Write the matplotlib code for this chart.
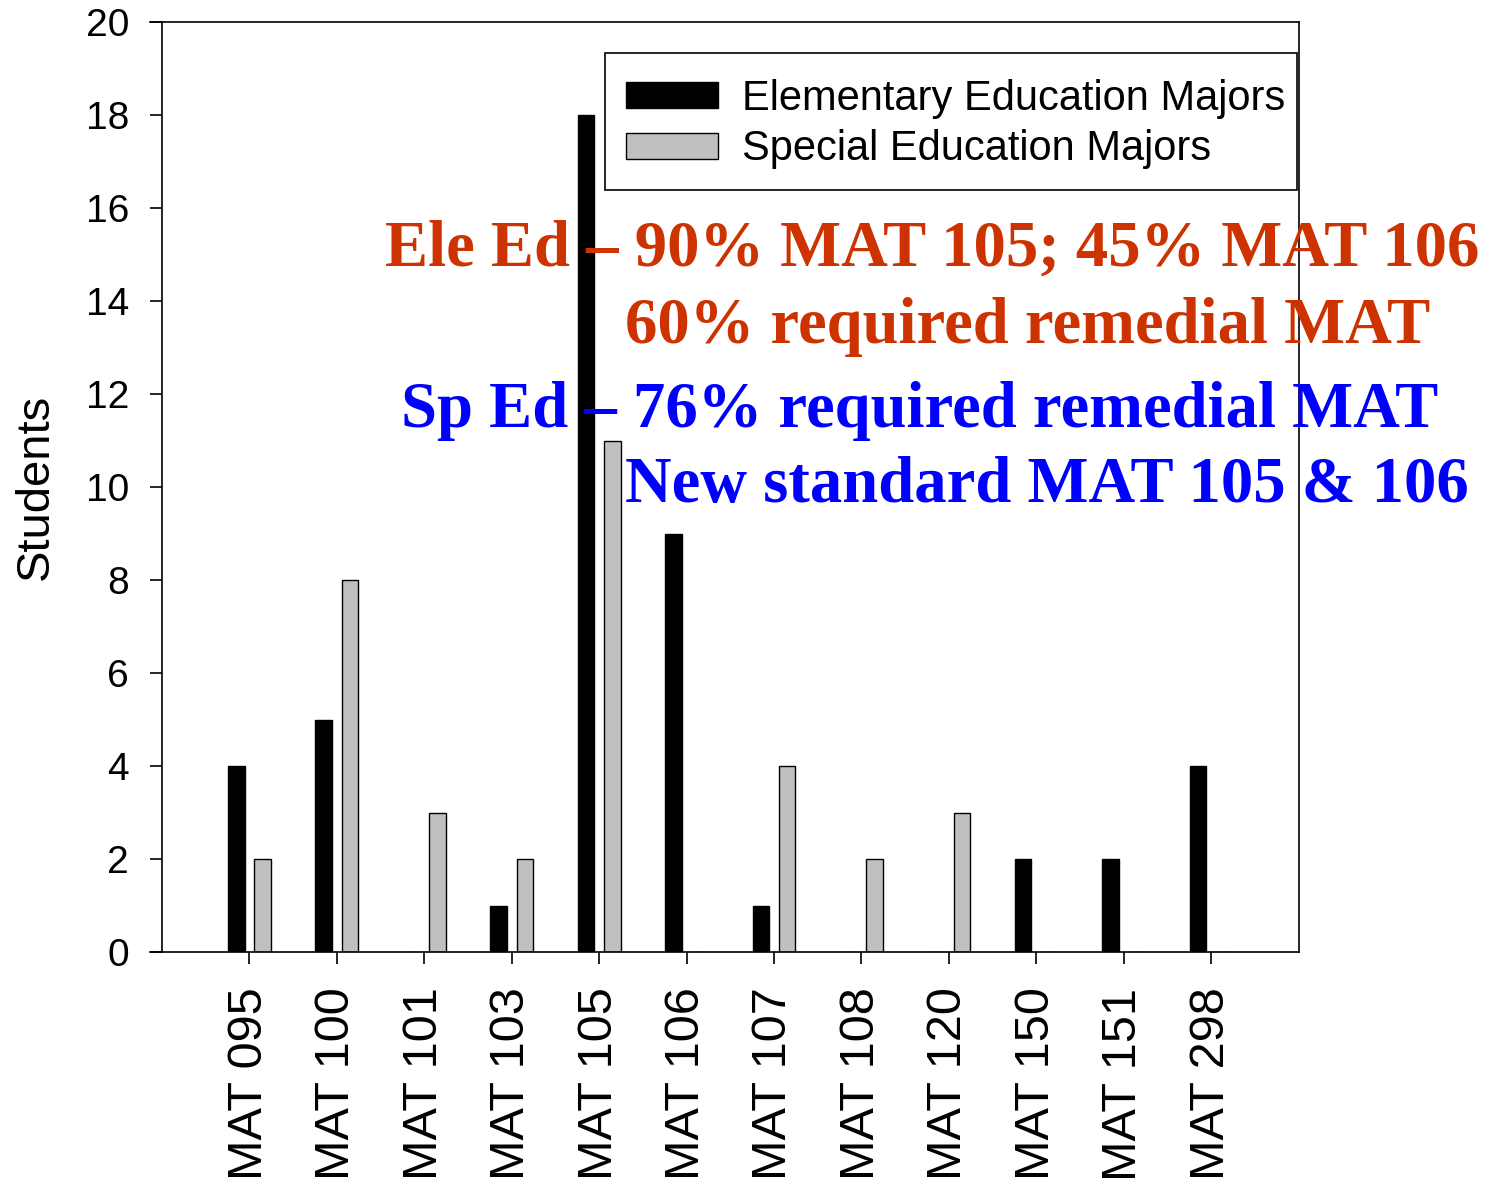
import numpy as np
import matplotlib
matplotlib.use('Agg')
import matplotlib.pyplot as plt
from matplotlib.patches import Rectangle

courses = ['MAT 095', 'MAT 100', 'MAT 101', 'MAT 103', 'MAT 105', 'MAT 106',
           'MAT 107', 'MAT 108', 'MAT 120', 'MAT 150', 'MAT 151', 'MAT 298']
elem_ed = [4, 5, 0, 1, 18, 9, 1, 0, 0, 2, 2, 4]
spec_ed = [2, 8, 3, 2, 11, 0, 4, 2, 3, 0, 0, 0]
series_names = ['Elementary Education Majors', 'Special Education Majors']

notes_ele = ['Ele Ed \u2013 90% MAT 105; 45% MAT 106', '60% required remedial MAT']
notes_sp = ['Sp Ed \u2013 76% required remedial MAT', 'New standard MAT 105 & 106']

W, H = 1490, 1181
plt.rcParams['font.family'] = ['Liberation Sans', 'DejaVu Sans']
fig = plt.figure(figsize=(W / 100, H / 100), dpi=100)
ax = fig.add_axes([162 / W, 1 - 952 / H, (1298.5 - 162) / W, (952 - 22) / H])

x = np.arange(len(courses))
bw = 0.19
ax.bar(x - 0.15, elem_ed, bw, color='black', edgecolor='black', linewidth=1, label=series_names[0])
ax.bar(x + 0.15, spec_ed, bw, color='#c0c0c0', edgecolor='black', linewidth=1, label=series_names[1])

ax.set_xlim(-1, 12)
ax.set_ylim(0, 20)
ax.set_yticks(np.arange(0, 21, 2))
ax.set_xticks(x)
ax.set_xticklabels(courses, rotation=90, fontsize=35)
ax.tick_params(axis='y', labelsize=28, pad=15)
ax.tick_params(axis='x', pad=17)
ax.tick_params(direction='out', length=8.6, width=1.2)
for s in ax.spines.values():
    s.set_linewidth(1.2)
# frame lines at top and bottom run past the y axis like in the original
ext = -1 - 12 / 87.4
ax.spines['bottom'].set_bounds(ext, 12)
ax.spines['top'].set_bounds(ext, 12)

ax.set_ylabel('Students', fontsize=34)
ax.yaxis.set_label_coords(-0.092, 0.5)

# legend box drawn separately so its padding matches the original
ax.add_patch(Rectangle((605 / W, 1 - 190 / H), (1297 - 605) / W, (190 - 53) / H,
                       transform=fig.transFigure, facecolor='white', clip_on=False,
                       edgecolor='black', linewidth=1.2, zorder=4))
leg = ax.legend(loc='upper left', bbox_to_anchor=(626 / W, 1 - 79 / H),
                bbox_transform=fig.transFigure, fontsize=30, frameon=False,
                handlelength=2.2, handleheight=0.58, handletextpad=0.58,
                labelspacing=0.25, borderpad=0, borderaxespad=0)
leg.set_zorder(6)

serif = dict(family=['Liberation Serif', 'DejaVu Serif'], weight='bold', fontsize=46.5, va='baseline')
fig.text(385 / W, 1 - 266 / H, notes_ele[0], color='#cc3300', **serif)
fig.text(625 / W, 1 - 343 / H, notes_ele[1], color='#cc3300', **serif)
fig.text(401 / W, 1 - 427 / H, notes_sp[0], color='#0000ff', **serif)
fig.text(625 / W, 1 - 502 / H, notes_sp[1], color='#0000ff', **serif)

fig.savefig('out.png', dpi=100)
